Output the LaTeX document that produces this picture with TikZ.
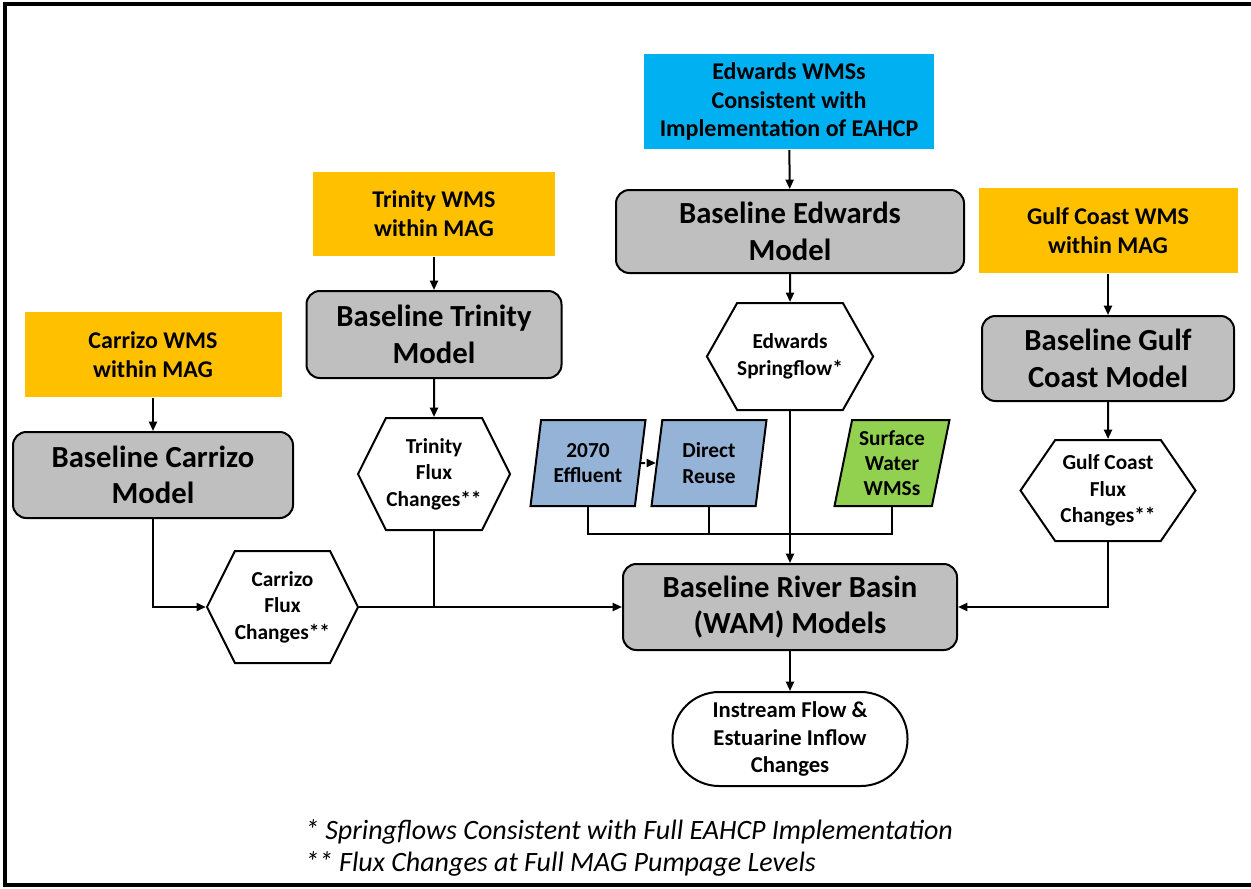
\documentclass[tikz,border=0pt]{standalone}
\usepackage{fontspec}
\setmainfont{Carlito}
\usepackage[dvipsnames]{xcolor}
\usetikzlibrary{arrows.meta,shapes.geometric,shapes.symbols}
\definecolor{wmsyellow}{HTML}{FFC000}
\definecolor{wmsblue}{HTML}{00B0F0}
\definecolor{modelgray}{HTML}{BFBFBF}
\definecolor{reuseblue}{HTML}{95B3D7}
\definecolor{swgreen}{HTML}{92D050}
\begin{document}
\begin{tikzpicture}[x=0.75pt,y=-0.75pt,>={Triangle[length=7pt,width=6pt]},line width=1.5pt,
    wms node/.style={fill=wmsyellow,align=center,inner sep=0pt,font=\bfseries\fontsize{18}{21.5}\selectfont},
    model node/.style={draw,fill=modelgray,rounded corners=10pt,align=center,inner sep=0pt,font=\bfseries\fontsize{23}{27.5}\selectfont},
    flux node/.style={signal,signal to=east and west,draw,fill=white,align=center,inner sep=0pt,font=\bfseries\fontsize{16}{20}\selectfont},
    reuse node/.style={trapezium,trapezium left angle=75,trapezium right angle=105,trapezium stretches body,draw,align=center,inner sep=0pt,minimum width=86.25pt,minimum height=64.5pt,font=\bfseries\fontsize{16}{19}\selectfont}]

    \useasboundingbox (0,0) rectangle (1251,888);
    \draw[line width=3pt] (1251,4) -| (5,885) -- (1251,885);

    \node[fill=wmsblue,align=center,inner sep=0pt,minimum width=217.5pt,minimum height=71.25pt,font=\bfseries\fontsize{18}{21.5}\selectfont] (1) at (789,101.5) {Edwards WMSs\\Consistent with\\Implementation of EAHCP};
    \node[model node,minimum width=261pt,minimum height=62.25pt] (2) at (790,231.5) {Baseline Edwards\\Model};
    \node[flux node,signal pointer angle=121,minimum width=111pt,minimum height=80.25pt] (3) at (790,356.5) {Edwards\\Springflow*};

    \node[wms node,minimum width=181.5pt,minimum height=63pt] (4) at (434,214) {Trinity WMS\\within MAG};
    \node[model node,minimum width=191.25pt,minimum height=65.25pt] (5) at (434,334.5) {Baseline Trinity\\Model};
    \node[flux node,signal pointer angle=127,minimum width=114pt,minimum height=84pt] (6) at (434,474) {Trinity\\Flux\\Changes**};

    \node[wms node,minimum width=192.75pt,minimum height=63.75pt] (7) at (153,354.5) {Carrizo WMS\\within MAG};
    \node[model node,minimum width=210pt,minimum height=64.5pt] (8) at (153,475) {Baseline Carrizo\\Model};
    \node[flux node,signal pointer angle=127,minimum width=113.25pt,minimum height=84pt] (9) at (282.5,607) {Carrizo\\Flux\\Changes**};

    \node[wms node,minimum width=194.25pt,minimum height=63.75pt] (10) at (1108,230.5) {Gulf Coast WMS\\within MAG};
    \node[model node,minimum width=189pt,minimum height=63.75pt] (11) at (1108,358.5) {Baseline Gulf\\Coast Model};
    \node[flux node,signal pointer angle=111,minimum width=131.25pt,minimum height=75.75pt] (12) at (1108,490.5) {Gulf Coast\\Flux\\Changes**};

    \node[reuse node,fill=reuseblue] (13) at (588,463) {2070\\Effluent};
    \node[reuse node,fill=reuseblue] (14) at (709,463) {Direct\\Reuse};
    \node[reuse node,fill=swgreen] (15) at (892,463) {Surface\\Water\\WMSs};

    \node[model node,minimum width=250.5pt,minimum height=64.5pt] (16) at (790,607) {Baseline River Basin\\(WAM) Models};
    \node[draw,rounded corners=35pt,align=center,inner sep=0pt,minimum width=176.25pt,minimum height=70.5pt,font=\bfseries\fontsize{17}{20.5}\selectfont] (17) at (790,739) {Instream Flow \&\\Estuarine Inflow\\Changes};

    \node[anchor=north west,align=left,inner sep=0pt,font=\itshape\fontsize{21}{24}\selectfont] (18) at (304,819) {* Springflows Consistent with Full EAHCP Implementation\\** Flux Changes at Full MAG Pumpage Levels};

    \coordinate (19) at (790,534);

    \draw[->] (1) -- (2);
    \draw[->] (2) -- (3);
    \draw[->] (3.south) -- (3.south |- 16.north);
    \draw[->] (4) -- (5);
    \draw[->] (5) -- (6);
    \draw (6.south) -- (6.south |- 16.west);
    \draw[->] (7) -- (8);
    \draw[->] (8.south) |- (9.west);
    \draw[->] (9.east) -- (16.west);
    \draw[->] (10) -- (11);
    \draw[->] (11) -- (12);
    \draw[->] (12.south) |- (16.east);
    \draw[->] (16) -- (17);
    \draw[->,dashed] (13) -- (14);
    \draw (13.south) |- (19) -| (15.south);
    \draw (14.south) -- (14.south |- 19);
\end{tikzpicture}
\end{document}
